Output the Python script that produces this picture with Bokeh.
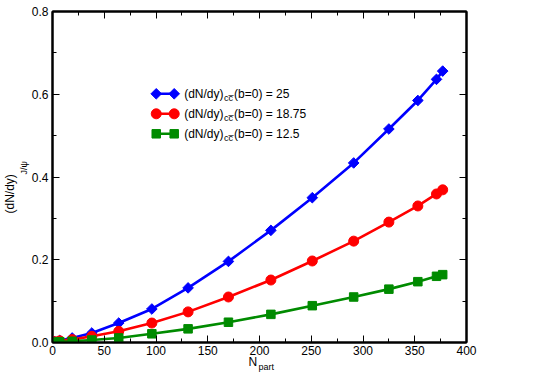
import math
from bokeh.plotting import figure
from bokeh.models import (SingleIntervalTicker, LinearAxis, NumeralTickFormatter, Label, Title)
from bokeh.embed import file_html
from bokeh.resources import INLINE

# ---- data ----
npart = [2, 7, 19, 38, 64, 96, 131, 170, 211, 251, 291, 325, 353, 371, 377]
jpsi_25 = [0.002, 0.005, 0.011, 0.023, 0.047, 0.081, 0.132, 0.196, 0.271, 0.350,
           0.434, 0.516, 0.585, 0.636, 0.656]
jpsi_1875 = [0.002, 0.004, 0.007, 0.015, 0.027, 0.047, 0.074, 0.110, 0.151, 0.197,
             0.245, 0.291, 0.330, 0.359, 0.369]
jpsi_125 = [0.001, 0.002, 0.003, 0.006, 0.011, 0.021, 0.033, 0.049, 0.068, 0.089,
            0.110, 0.129, 0.147, 0.160, 0.164]
legend_values = ["25", "18.75", "12.5"]
x_ticks_interval = 50
y_ticks_interval = 0.2

FONT = "Liberation Sans"

FL, FR, FT, FB = 51, 466, 11, 342
XMIN, XMAX, YMIN, YMAX = 0, 400, 0, 0.8
W, H = 524, 374


def dx(px):
    return XMIN + (px - FL) / (FR - FL) * (XMAX - XMIN)


def dy(py):
    return YMIN + (FB - py) / (FB - FT) * (YMAX - YMIN)


p = figure(width=W, height=H, x_range=(XMIN, XMAX), y_range=(YMIN, YMAX),
           output_backend="svg", toolbar_location=None,
           min_border_left=FL, min_border_right=W - FR,
           min_border_top=FT, min_border_bottom=H - FB)
p.xgrid.visible = False
p.ygrid.visible = False
p.outline_line_color = "black"
p.outline_line_width = 2


def style_axis(ax, ticker, show_labels=True):
    ax.ticker = ticker
    ax.major_tick_in = 7
    ax.major_tick_out = 0
    ax.minor_tick_in = 4
    ax.minor_tick_out = 0
    ax.major_tick_line_color = "black"
    ax.minor_tick_line_color = "black"
    ax.axis_line_color = "black"
    ax.axis_line_width = 2
    ax.major_label_text_font = FONT
    ax.major_label_text_font_size = "12px"
    ax.major_label_text_color = "black"
    ax.major_label_standoff = 4
    if not show_labels:
        ax.major_label_text_font_size = "0px"
        ax.major_label_text_alpha = 0


style_axis(p.xaxis[0], SingleIntervalTicker(interval=x_ticks_interval, num_minor_ticks=2))
style_axis(p.yaxis[0], SingleIntervalTicker(interval=y_ticks_interval, num_minor_ticks=2))
p.xaxis[0].major_label_standoff = 3
p.yaxis[0].formatter = NumeralTickFormatter(format="0.0")

top = LinearAxis()
style_axis(top, SingleIntervalTicker(interval=x_ticks_interval, num_minor_ticks=2), False)
right = LinearAxis()
style_axis(right, SingleIntervalTicker(interval=y_ticks_interval, num_minor_ticks=2), False)
p.add_layout(top, "above")
p.add_layout(right, "right")

series = [
    (jpsi_25, "#0000ff", "diamond"),
    (jpsi_1875, "#ff0000", "circle"),
    (jpsi_125, "#008b00", "square"),
]


def markers(xs, ys, col, mk):
    if mk == "diamond":
        p.scatter(xs, ys, marker="square", angle=math.pi / 4, size=7.5,
                  fill_color=col, line_color=col)
    elif mk == "circle":
        p.scatter(xs, ys, marker="circle", size=10, fill_color=col, line_color=col)
    else:
        p.scatter(xs, ys, marker="square", size=8.5, fill_color=col, line_color=col)


for ys, col, mk in series:
    p.line(npart, ys, line_color=col, line_width=2.6)
    markers(npart, ys, col, mk)

# ---- legend (manual) ----
rows = [93.3, 113.3, 133.3]
for (ys, col, mk), val, ry in zip(series, legend_values, rows):
    lx = [dx(155), dx(173)]
    ly = [dy(ry), dy(ry)]
    p.line(lx, ly, line_color=col, line_width=2.6)
    markers(lx, ly, col, mk)
    p.add_layout(Label(x=dx(183), y=dy(ry), text="(dN/dy)", text_font=FONT,
                       text_font_size="12px", text_baseline="middle", text_align="left",
                       text_color="black"))
    p.add_layout(Label(x=dx(223), y=dy(ry + 4.5), text="cc\u0305", text_font=FONT,
                       text_font_size="9px", text_baseline="middle", text_align="left",
                       text_color="black"))
    p.add_layout(Label(x=dx(233), y=dy(ry), text="(b=0) = " + val, text_font=FONT,
                       text_font_size="12px", text_baseline="middle", text_align="left",
                       text_color="black"))

# ---- axis titles with subscripts (Titles render outside the frame) ----
ty_sub = Title(text="J/\u03c8", align="left", offset=168, text_font=FONT,
               text_font_size="9px", text_font_style="normal", text_color="black",
               standoff=0)
ty_main = Title(text="(dN/dy)", align="left", offset=129, text_font=FONT,
                text_font_size="12px", text_font_style="normal", text_color="black",
                standoff=0)
p.add_layout(ty_sub, "left")
p.add_layout(ty_main, "left")

tx_main = Title(text="N", align="left", offset=196, text_font=FONT,
                text_font_size="12px", text_font_style="normal", text_color="black",
                vertical_align="top", standoff=-5)
tx_sub = Title(text="part", align="left", offset=206, text_font=FONT,
               text_font_size="9px", text_font_style="normal", text_color="black",
               vertical_align="top", standoff=-13)
p.add_layout(tx_main, "below")
p.add_layout(tx_sub, "below")

open("out.html", "w").write(file_html(p, INLINE))
